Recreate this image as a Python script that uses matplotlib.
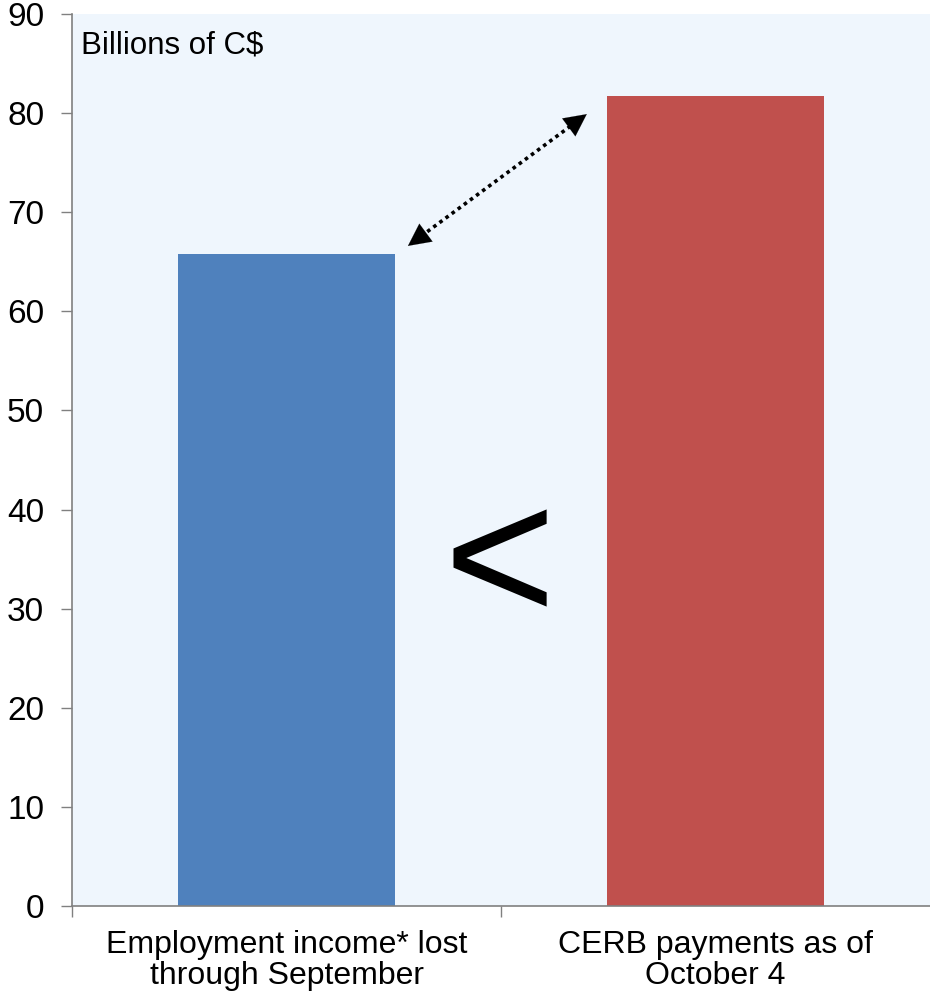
import matplotlib
matplotlib.use("Agg")
import matplotlib.pyplot as plt

categories = ["Employment income* lost\nthrough September", "CERB payments as of\nOctober 4"]
values = [65.8, 81.7]
bar_colors = ["#4F81BD", "#C0504D"]
y_ticks = [0, 10, 20, 30, 40, 50, 60, 70, 80, 90]
unit_label = "Billions of C$"

plt.rcParams["font.family"] = ["Liberation Sans", "DejaVu Sans"]

fig = plt.figure(figsize=(9.30, 9.93), dpi=100)
ax = fig.add_axes([72 / 930, 1 - 906 / 993, 1 - 72 / 930, (906 - 14) / 993])
ax.set_facecolor("#EFF6FD")

x = list(range(len(categories)))
ax.bar(x, values, width=0.505, color=bar_colors, zorder=2)

ax.set_xlim(-0.5, 1.5)
ax.set_ylim(0, 90)
ax.set_yticks(y_ticks)
ax.set_yticklabels([str(v) for v in y_ticks], fontsize=24)
ax.tick_params(axis="y", length=8, width=1, color="#808080", pad=12)

# category labels centred, ticks on category boundaries
ax.set_xticks([-0.5, 0.5])
ax.set_xticklabels([])
ax.set_xticks(x, minor=True)
ax.set_xticklabels(categories, minor=True, fontsize=23, linespacing=1.08)
ax.tick_params(axis="x", which="major", length=8, width=1, color="#808080")
ax.tick_params(axis="x", which="minor", length=0, pad=17)

for side in ("top", "right"):
    ax.spines[side].set_visible(False)
for side in ("left", "bottom"):
    ax.spines[side].set_color("#808080")
    ax.spines[side].set_linewidth(1.2)
ax.spines["bottom"].set_zorder(3)

ax.text(0.011, 0.982, unit_label, transform=ax.transAxes, fontsize=22.5,
        ha="left", va="top")

ax.text(0.497, 33.7, "<", fontsize=138, ha="center", va="center")

# dotted double-headed arrow linking the two bar tops
start = (0.283, 66.6)
end = (0.700, 79.9)
dx = end[0] - start[0]
dy = end[1] - start[1]
ax.plot([start[0] + 0.04 * dx, end[0] - 0.04 * dx],
        [start[1] + 0.04 * dy, end[1] - 0.04 * dy],
        color="black", lw=2.6, linestyle=(0, (1, 1.1)), dash_capstyle="butt", zorder=4)
for tip, frac in ((start, 0.08), (end, 0.92)):
    base = (start[0] + frac * dx, start[1] + frac * dy)
    ax.annotate("", xy=tip, xytext=base,
                arrowprops=dict(arrowstyle="-|>,head_length=0.8,head_width=0.4",
                                color="black", lw=0.1, shrinkA=0, shrinkB=0,
                                mutation_scale=20), zorder=5)

fig.savefig("out.png", dpi=100)
